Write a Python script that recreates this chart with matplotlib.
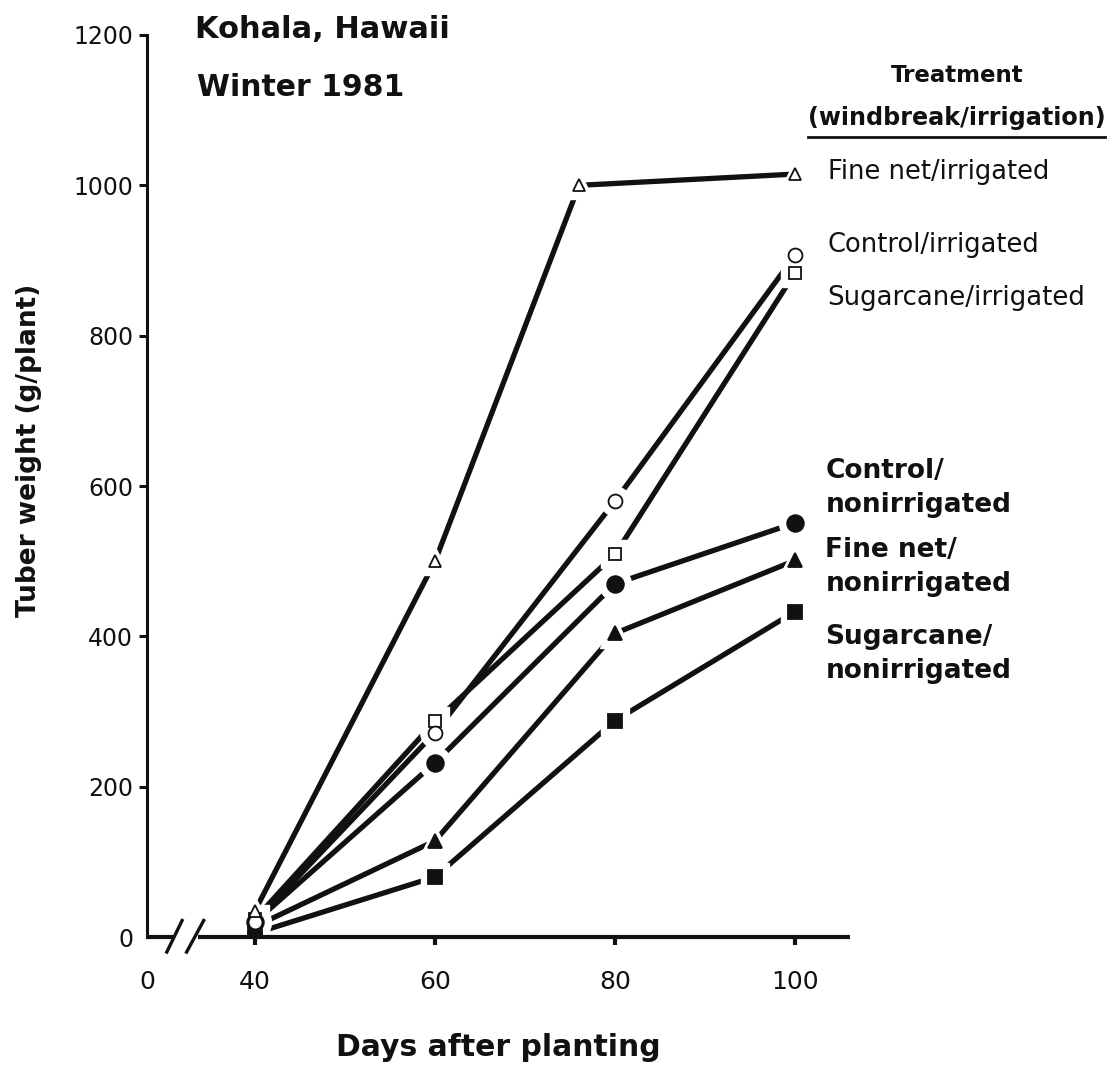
"""Tuber weight over time for six windbreak/irrigation treatments."""

import matplotlib
matplotlib.use("Agg")
import matplotlib.pyplot as plt

# Sampling days (the fine-net irrigated plot was harvested early for the third sample)
days = [40, 60, 80, 100]
fine_net_irr_days = [40, 60, 76, 100]

# Tuber weight (g/plant)
fine_net_irr = [35, 500, 1000, 1015]
control_irr = [20, 272, 580, 907]
sugarcane_irr = [24, 287, 509, 884]
control_non = [20, 232, 470, 551]
fine_net_non = [14, 128, 404, 501]
sugarcane_non = [5, 80, 288, 433]

y_ticks = [0, 200, 400, 600, 800, 1000, 1200]
x_ticks = [40, 60, 80, 100]
x_origin = 28  # where the "0" sits left of the axis break

INK = "#111111"

plt.rcParams.update({
    "font.family": "DejaVu Sans",
    "axes.linewidth": 2.2,
})

fig = plt.figure(figsize=(11.11, 10.67), dpi=100)
ax = fig.add_axes([0.1323, 0.1218, 0.6328, 0.8454])

series = [
    (days, sugarcane_non, "s", INK, 9.5),
    (days, fine_net_non, "^", INK, 10),
    (days, control_non, "o", INK, 12),
    (days, sugarcane_irr, "s", "white", 9),
    (days, control_irr, "o", "white", 10),
    (fine_net_irr_days, fine_net_irr, "^", "white", 8.5),
]

for x, y, marker, face, size in series:
    ax.plot(x, y, color=INK, linewidth=3.8, solid_capstyle="round", zorder=1.8)
for x, y, marker, face, size in series:
    # white halo leaves a small gap between line ends and the symbol
    ax.plot(x, y, linestyle="none", marker=marker, markersize=size + 11,
            markerfacecolor="white", markeredgecolor="white", zorder=2.0)
    ax.plot(x, y, linestyle="none", marker=marker, markersize=size,
            markerfacecolor=face, markeredgecolor=INK, markeredgewidth=1.3,
            zorder=2.2)

ax.set_xlim(x_origin, 106.1)
ax.set_ylim(0, 1200)

for side in ("top", "right", "bottom"):
    ax.spines[side].set_visible(False)
ax.spines["left"].set_color(INK)

# x axis drawn by hand so it can carry the break marks
line_kw = dict(color=INK, linewidth=3.0, clip_on=False,
               solid_capstyle="butt", zorder=2.6)
ax.plot([x_origin, 30.9], [0, 0], **line_kw)
ax.plot([33.7, 106.1], [0, 0], **line_kw)
slash_kw = dict(color=INK, linewidth=2.4, clip_on=False, zorder=2.6)
ax.plot([30.2, 31.9], [-20, 22], **slash_kw)
ax.plot([32.4, 34.3], [-20, 22], **slash_kw)

ax.set_yticks(y_ticks)
ax.set_yticklabels([str(v) for v in y_ticks])
ax.set_xticks([x_origin] + x_ticks)
ax.set_xticklabels(["0"] + [str(v) for v in x_ticks])
ax.tick_params(axis="both", direction="out", width=2.2, colors=INK)
ax.tick_params(axis="x", pad=18, length=6, width=3, labelsize=18)
ax.tick_params(axis="y", pad=4, length=6, labelsize=17)
ax.xaxis.get_major_ticks()[0].tick1line.set_visible(False)
ax.yaxis.get_major_ticks()[0].tick1line.set_visible(False)

ax.set_xlabel("Days after planting", fontsize=21.5, fontweight="bold",
              labelpad=28, color=INK)
ax.set_ylabel("Tuber weight (g/plant)", fontsize=19, fontweight="bold",
              color=INK)
ax.yaxis.set_label_coords(-0.15, 0.54)

fig.text(0.1755, 0.972, "Kohala, Hawaii", fontsize=22, fontweight="bold",
         va="center", ha="left", color=INK)
fig.text(0.1773, 0.918, "Winter 1981", fontsize=21.5, fontweight="bold",
         va="center", ha="left", color=INK)

fig.text(0.862, 0.929, "Treatment", fontsize=16.5, fontweight="bold",
         va="center", ha="center", color=INK)
fig.text(0.861, 0.889, "(windbreak/irrigation)", fontsize=17.2,
         fontweight="bold", va="center", ha="center", color=INK)
fig.add_artist(plt.Line2D([0.727, 0.995], [0.8715, 0.8715],
                          color=INK, linewidth=2.0))

label_kw = dict(va="center", ha="left", color=INK, linespacing=1.4)
fig.text(0.745, 0.839, "Fine net/irrigated", fontsize=18.5, **label_kw)
fig.text(0.745, 0.770, "Control/irrigated", fontsize=18.5, **label_kw)
fig.text(0.745, 0.721, "Sugarcane/irrigated", fontsize=18.7, **label_kw)
fig.text(0.743, 0.543, "Control/\nnonirrigated", fontsize=19,
         fontweight="bold", **label_kw)
fig.text(0.743, 0.469, "Fine net/\nnonirrigated", fontsize=19,
         fontweight="bold", **label_kw)
fig.text(0.743, 0.387, "Sugarcane/\nnonirrigated", fontsize=19,
         fontweight="bold", **label_kw)

fig.savefig("out.png", dpi=100, facecolor="white")
